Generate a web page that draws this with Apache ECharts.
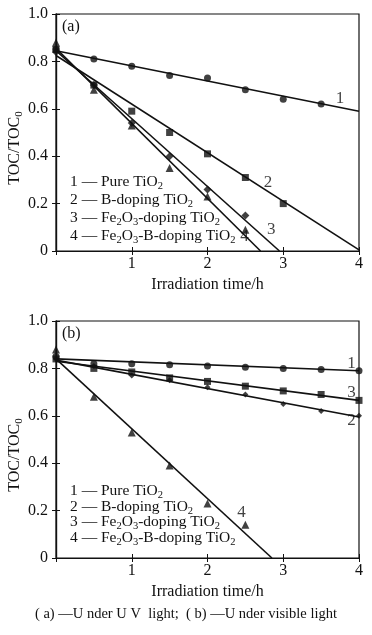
<!DOCTYPE html>
<html><head><meta charset="utf-8">
<script src="https://cdn.jsdelivr.net/npm/echarts@6/dist/echarts.min.js"></script>
<style>html,body{margin:0;padding:0;background:#fff}#c{width:372px;height:635px}</style>
</head><body><div id="c"></div>
<script>
// ---- data ----
const timeA = [0, 0.5, 1, 1.5, 2, 2.5, 3, 3.5];
const timeB = [0, 0.5, 1, 1.5, 2, 2.5, 3, 3.5, 4];
// panel (a) - under UV light
const a1 = [0.85, 0.81, 0.78, 0.74, 0.73, 0.68, 0.64, 0.62];
const a2 = [0.85, 0.70, 0.59, 0.50, 0.41, 0.31, 0.20];
const a3 = [0.84, 0.70, 0.54, 0.40, 0.26, 0.15];
const a4 = [0.88, 0.68, 0.53, 0.35, 0.23, 0.09];
// fitted lines (a): [x0,y0],[x1,y1]
const fitA1 = [[0, 0.845], [4, 0.59]];
const fitA2 = [[0, 0.825], [4, 0.005]];
const fitA3 = [[0, 0.845], [2.95, 0]];
const fitA4 = [[0, 0.855], [2.7, 0]];
// panel (b) - under visible light
const b1 = [0.85, 0.82, 0.82, 0.815, 0.81, 0.805, 0.80, 0.795, 0.79];
const b2 = [0.84, 0.81, 0.77, 0.75, 0.72, 0.69, 0.65, 0.62, 0.60];
const b3 = [0.84, 0.80, 0.785, 0.76, 0.745, 0.725, 0.705, 0.69, 0.665];
const b4 = [0.88, 0.68, 0.53, 0.39, 0.23, 0.14];
const fitB1 = [[0, 0.84], [4, 0.79]];
const fitB2 = [[0, 0.835], [4, 0.595]];
const fitB3 = [[0, 0.83], [4, 0.665]];
const fitB4 = [[0, 0.84], [2.85, 0]];
// curve number labels, anchored in data coords
const curveLabelsA = [['1', 3.75, 0.645], ['2', 2.8, 0.29], ['3', 2.84, 0.09], ['4', 2.49, 0.06]];
const curveLabelsB = [['1', 3.9, 0.82], ['3', 3.9, 0.70], ['2', 3.9, 0.58], ['4', 2.45, 0.19]];
// text
const xTicks = [0, 1, 2, 3, 4];
const yTicks = [0, 0.2, 0.4, 0.6, 0.8, 1.0];
const legendNums = ['1', '2', '3', '4'];
const legendNames = ['Pure TiO{s|2}', 'B-doping TiO{s|2}', 'Fe{s|2}O{s|3}-doping TiO{s|2}', 'Fe{s|2}O{s|3}-B-doping TiO{s|2}'];
const xName = 'Irradiation time/h';
const yName = 'TOC/TOC{s|0}';
const caption = '( a) \u2014U nder U V  light;  ( b) \u2014U nder visible light';

const FONT = '"Liberation Serif", "DejaVu Serif", serif';
const chart = echarts.init(document.getElementById('c'), null, {renderer: 'canvas'});

function zip(xs, ys) { return ys.map((y, i) => [xs[i], y]); }

const grids = [
  {left: 56, top: 14, width: 303, height: 237, show: true, borderColor: '#111', borderWidth: 1.2, containLabel: false, outerBoundsMode: 'none'},
  {left: 56, top: 321, width: 303, height: 237, show: true, borderColor: '#111', borderWidth: 1.2, containLabel: false, outerBoundsMode: 'none'}
];

function xAxes(gi) {
  return [{
    type: 'value', gridIndex: gi, min: 0, max: 4, interval: 1,
    name: xName, nameLocation: 'middle', nameGap: 26,
    nameTextStyle: {fontFamily: FONT, fontSize: 16, color: '#111'},
    axisLine: {show: true, lineStyle: {color: '#111', width: 1.2}},
    axisTick: {show: true, inside: true, length: 4, lineStyle: {color: '#111'}},
    axisLabel: {fontFamily: FONT, fontSize: 16, color: '#111', margin: 5,
      formatter: v => v === 0 ? '' : String(v)},
    splitLine: {show: false}
  }, {
    type: 'value', gridIndex: gi, position: 'top', min: 0, max: 4, interval: 1,
    axisLine: {show: true, lineStyle: {color: '#111', width: 1.2}},
    axisTick: {show: true, inside: true, length: 4, lineStyle: {color: '#111'}},
    axisLabel: {show: false}, splitLine: {show: false}
  }];
}
function yAxes(gi) {
  return [{
    type: 'value', gridIndex: gi, min: 0, max: 1, interval: 0.2,
    axisLine: {show: true, lineStyle: {color: '#111', width: 1.2}},
    axisTick: {show: true, inside: true, length: 4, lineStyle: {color: '#111'}},
    axisLabel: {fontFamily: FONT, fontSize: 16, color: '#111', margin: 8,
      formatter: v => v === 0 ? '0' : v.toFixed(1)},
    splitLine: {show: false}
  }, {
    type: 'value', gridIndex: gi, position: 'right', min: 0, max: 1, interval: 0.2,
    axisLine: {show: true, lineStyle: {color: '#111', width: 1.2}},
    axisTick: {show: true, inside: true, length: 4, lineStyle: {color: '#111'}},
    axisLabel: {show: false}, splitLine: {show: false}
  }];
}

function fitLine(data, axisIdx) {
  return {type: 'line', xAxisIndex: axisIdx, yAxisIndex: axisIdx, data: data,
    symbol: 'none', lineStyle: {color: '#111', width: 1.6}, z: 2, silent: true, animation: false};
}
function pts(xs, ys, symbol, size, axisIdx) {
  return {type: 'scatter', xAxisIndex: axisIdx, yAxisIndex: axisIdx, data: zip(xs, ys),
    symbol: symbol, symbolSize: size, itemStyle: {color: '#111'}, z: 3, silent: true, animation: false};
}
function curveLabels(list, axisIdx) {
  return {type: 'scatter', xAxisIndex: axisIdx, yAxisIndex: axisIdx, symbolSize: 0,
    data: list.map(l => ({value: [l[1], l[2]], name: l[0]})),
    label: {show: true, position: 'inside', formatter: p => p.name,
      fontFamily: FONT, fontSize: 17, color: '#111'}, silent: true, animation: false};
}

function legendGraphic(x, ys) {
  return ys.map((y, i) => ({
    type: 'text', left: x, top: y - 10,
    style: {
      text: legendNums[i] + ' \u2014 ' + legendNames[i],
      font: '15.5px ' + FONT, fill: '#111',
      rich: {s: {font: '10.5px ' + FONT, fill: '#111', verticalAlign: 'bottom', padding: [9, 0, 0, 0]}}
    }
  }));
}
function yTitle(y) {
  return {type: 'text', x: 15, y: y, rotation: Math.PI / 2,
    style: {text: yName, font: '16px ' + FONT, fill: '#111', align: 'center', verticalAlign: 'middle',
      rich: {s: {font: '11px ' + FONT, fill: '#111', verticalAlign: 'bottom', padding: [9, 0, 0, 0]}}}};
}

const option = {
  animation: false,
  backgroundColor: '#fff',
  grid: grids,
  xAxis: [...xAxes(0), ...xAxes(1)],
  yAxis: [...yAxes(0), ...yAxes(1)],
  series: [
    fitLine(fitA1, 0), fitLine(fitA2, 0), fitLine(fitA3, 0), fitLine(fitA4, 0),
    pts(timeA, a1, 'circle', 7, 0),
    pts(timeA, a2, 'rect', 7, 0),
    pts(timeA, a3, 'diamond', 8, 0),
    pts(timeA, a4, 'triangle', 8, 0),
    curveLabels(curveLabelsA, 0),
    fitLine(fitB1, 2), fitLine(fitB2, 2), fitLine(fitB3, 2), fitLine(fitB4, 2),
    pts(timeB, b1, 'circle', 7, 2),
    pts(timeB, b2, 'diamond', 6, 2),
    pts(timeB, b3, 'rect', 7, 2),
    pts(timeB, b4, 'triangle', 8, 2),
    curveLabels(curveLabelsB, 2)
  ],
  graphic: [
    {type: 'text', left: 62, top: 19, style: {text: '(a)', font: '16px ' + FONT, fill: '#111'}},
    {type: 'text', left: 62, top: 326, style: {text: '(b)', font: '16px ' + FONT, fill: '#111'}},
    yTitle(148), yTitle(455),
    ...legendGraphic(70, [184, 202, 220, 238]),
    ...legendGraphic(70, [493, 509, 524, 540]),
    {type: 'text', left: 'center', top: 607, style: {text: caption, font: '14.5px ' + FONT, fill: '#111'}}
  ]
};
chart.setOption(option);
</script></body></html>
